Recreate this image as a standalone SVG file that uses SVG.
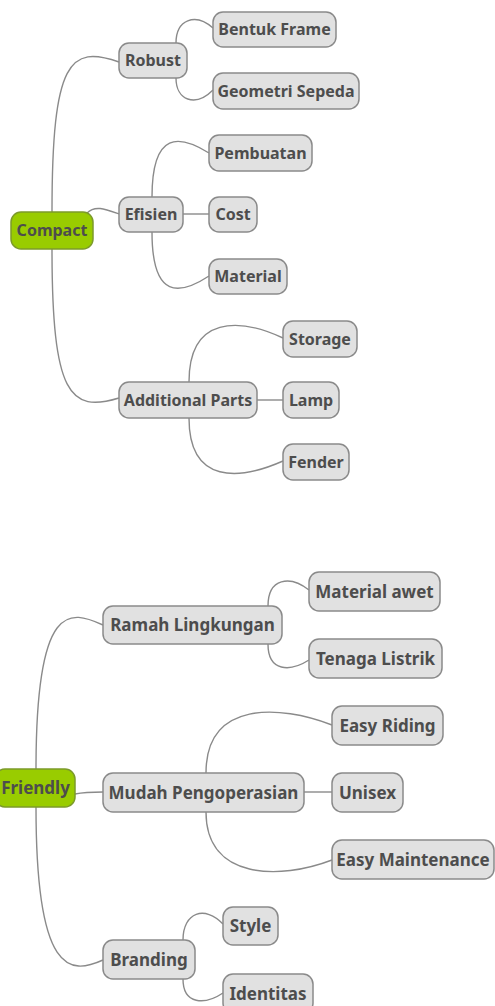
<svg xmlns="http://www.w3.org/2000/svg" width="495" height="1006" viewBox="0 0 495 1006">
<style>
.n rect{fill:#e1e1e1;stroke:#8a8a8a;stroke-width:1.5}
.r rect{fill:#99cc00;stroke:#7c9a2a;stroke-width:1.5}
text{font-family:"Noto Sans","Open Sans",sans-serif;font-weight:bold;fill:#4d4d4d;text-anchor:middle}
.s text{font-size:16px}
.b text{font-size:17px}
#connectors path{fill:none;stroke:#8a8a8a;stroke-width:1.4}
</style>
<rect width="495" height="1006" fill="#ffffff"/>
<g id="connectors">
<path d="M52 212 C52 60,70 45,119 62"/>
<path d="M87 213 C95 205,105 209,119 214"/>
<path d="M52 249 C52 395,70 413,119 398"/>
<path d="M176 43 C176 20,195 12,213 28"/>
<path d="M176 78 C176 100,195 108,213 90"/>
<path d="M152 197 C152 130,180 135,209 153"/>
<path d="M183 214 L209 214"/>
<path d="M152 232 C152 300,180 295,209 276"/>
<path d="M189 382 C189 315,240 318,283 338"/>
<path d="M257 400 L283 400"/>
<path d="M189 418 C189 485,240 480,283 461"/>
<path d="M36 769 C36 600,70 610,103 625"/>
<path d="M75 794 C85 792,95 792,103 792"/>
<path d="M36 807 C36 975,70 975,103 960"/>
<path d="M268 606 C268 578,290 575,309 590"/>
<path d="M268 644 C268 672,290 672,309 660"/>
<path d="M206 773 C206 700,280 705,332 725"/>
<path d="M304 792 L332 792"/>
<path d="M206 812 C206 880,280 880,332 860"/>
<path d="M183 940 C183 912,205 905,223 924"/>
<path d="M183 979 C183 1005,205 1005,223 993"/>
</g>
<g class="s">
<g id="compact" class="r"><rect x="11" y="212" width="82" height="37" rx="10"/><text x="52" y="236">Compact</text></g>
<g id="robust" class="n"><rect x="119" y="43" width="68" height="35" rx="10"/><text x="153" y="66">Robust</text></g>
<g id="bentuk-frame" class="n"><rect x="213" y="12" width="123" height="35" rx="10"/><text x="274.5" y="35">Bentuk Frame</text></g>
<g id="geometri-sepeda" class="n"><rect x="213" y="73" width="146" height="36" rx="10"/><text x="286" y="96.5">Geometri Sepeda</text></g>
<g id="efisien" class="n"><rect x="119" y="197" width="64" height="35" rx="10"/><text x="151" y="220">Efisien</text></g>
<g id="pembuatan" class="n"><rect x="209" y="135" width="103" height="36" rx="10"/><text x="260.5" y="158.5">Pembuatan</text></g>
<g id="cost" class="n"><rect x="209" y="197" width="48" height="35" rx="10"/><text x="233" y="220">Cost</text></g>
<g id="material" class="n"><rect x="209" y="259" width="78" height="35" rx="10"/><text x="248" y="282">Material</text></g>
<g id="additional-parts" class="n"><rect x="119" y="382" width="138" height="36" rx="10"/><text x="188" y="405.5">Additional Parts</text></g>
<g id="storage" class="n"><rect x="283" y="321" width="74" height="36" rx="10"/><text x="320" y="344.5">Storage</text></g>
<g id="lamp" class="n"><rect x="283" y="382" width="56" height="36" rx="10"/><text x="311" y="405.5">Lamp</text></g>
<g id="fender" class="n"><rect x="283" y="444" width="66" height="36" rx="10"/><text x="316" y="467.5">Fender</text></g>
</g>
<g class="b">
<g id="friendly" class="r"><rect x="-5" y="769" width="80" height="38" rx="10"/><text x="35.5" y="794">Friendly</text></g>
<g id="ramah-lingkungan" class="n"><rect x="103" y="606" width="179" height="38" rx="10"/><text x="192.5" y="631">Ramah Lingkungan</text></g>
<g id="material-awet" class="n"><rect x="309" y="572" width="131" height="39" rx="10"/><text x="374.5" y="597.5">Material awet</text></g>
<g id="tenaga-listrik" class="n"><rect x="309" y="639" width="133" height="39" rx="10"/><text x="375.5" y="664.5">Tenaga Listrik</text></g>
<g id="mudah-pengoperasian" class="n"><rect x="103" y="773" width="201" height="39" rx="10"/><text x="203.5" y="798.5">Mudah Pengoperasian</text></g>
<g id="easy-riding" class="n"><rect x="332" y="706" width="111" height="39" rx="10"/><text x="387.5" y="731.5">Easy Riding</text></g>
<g id="unisex" class="n"><rect x="332" y="773" width="71" height="39" rx="10"/><text x="367.5" y="798.5">Unisex</text></g>
<g id="easy-maintenance" class="n"><rect x="332" y="840" width="162" height="39" rx="10"/><text x="413" y="865.5">Easy Maintenance</text></g>
<g id="branding" class="n"><rect x="103" y="940" width="92" height="39" rx="10"/><text x="149" y="965.5">Branding</text></g>
<g id="style" class="n"><rect x="223" y="907" width="55" height="38" rx="10"/><text x="250.5" y="932">Style</text></g>
<g id="identitas" class="n"><rect x="223" y="974" width="90" height="39" rx="10"/><text x="268" y="999.5">Identitas</text></g>
</g>
</svg>
